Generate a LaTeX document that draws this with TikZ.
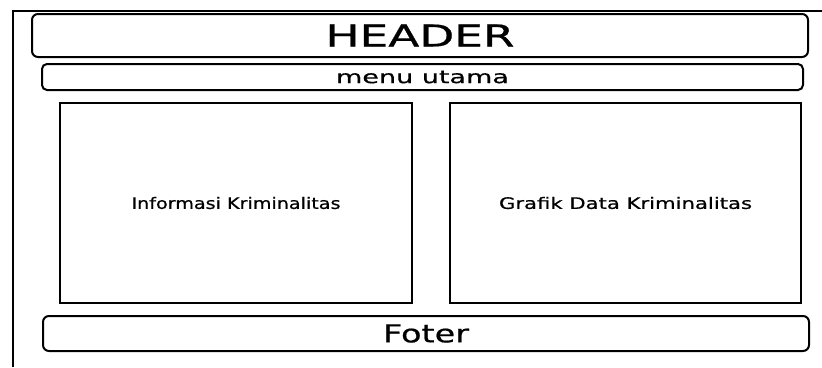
\documentclass[tikz,border=0pt]{standalone}
\usepackage{fontspec}
\setmainfont{DejaVu Sans}[FakeBold=1]
\newfontfamily\labelfont{DejaVu Sans}[AutoFakeBold=0.6]
\begin{document}
\begin{tikzpicture}[x=1pt,y=-1pt,
  roundbox/.style={draw=black, line width=2pt, rounded corners=6pt, inner sep=0pt, font=\labelfont\bfseries},
  panel/.style={draw=black, line width=2.5pt, inner sep=0pt, font=\labelfont\bfseries},
  frame/.style={draw=black, line width=2.8pt}]
\useasboundingbox (0,0) rectangle (822,367);
\fill[white] (0,0) rectangle (822,367);
\coordinate (fb) at (13,367);
\coordinate (ft) at (13,11);
\coordinate (fr) at (822,11);
\draw[frame] (fb) -- (ft) -- (fr);
\node[roundbox, minimum width=776pt, minimum height=43pt] (header) at (420,35.5)
  {\resizebox{189pt}{22pt}{HEADER}};
\node[roundbox, rounded corners=5pt, minimum width=761pt, minimum height=26pt] (menu) at (422.5,77)
  {\resizebox{173pt}{12.5pt}{menu utama}};
\node[panel, minimum width=352pt, minimum height=200pt] (left) at (236,203)
  {\resizebox{209pt}{12pt}{Informasi Kriminalitas}};
\node[panel, minimum width=351pt, minimum height=200pt] (right) at (625.5,203)
  {\resizebox{253pt}{12pt}{Grafik Data Kriminalitas}};
\node[roundbox, minimum width=766pt, minimum height=35pt] (foter) at (426,333.5)
  {\resizebox{86pt}{18pt}{Foter}};
\end{tikzpicture}
\end{document}
